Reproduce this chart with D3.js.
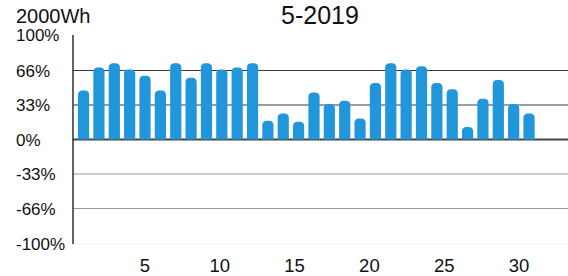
<!DOCTYPE html>
<html>
<head>
<meta charset="utf-8">
<title>5-2019</title>
<script src="https://cdn.jsdelivr.net/npm/d3@7"></script>
<style>
  body { margin: 0; background: #fff; }
  svg { display: block; font-family: 'Liberation Sans', Arial, sans-serif; }
  text { fill: #111; }
  .bar { fill: #2196db; }
</style>
</head>
<body>
<svg width="568" height="276"></svg>
<script>
// days of May 2019 with a value
const days = d3.range(1, 31);
// percent of 2000Wh per day
const values = [47, 69, 73, 67, 61, 47, 73, 59, 73, 67,
                69, 73, 18, 25, 17, 45, 34, 37, 20, 54,
                73, 67, 70, 54, 48, 12, 39, 57, 34, 25];
const yTicks = [100, 66, 33, 0, -33, -66, -100];
const xTicks = [5, 10, 15, 20, 25, 30];

const svg = d3.select('svg');
const width = 568;

const y = d3.scaleLinear().domain([-100, 100]).range([244, 35]);
const x = d3.scaleBand().domain(days).range([75.9, 536.7])
  .paddingInner(0.27).paddingOuter(0.135);
// tick labels sit on a slightly different spacing than the bars
const xLab = d3.scaleLinear().domain([5, 30]).range([145, 519]);

const axisX = 73;

// grid lines
const gridColor = v => v > 0 ? '#3a3a3a' : v === 0 ? '#444' : v === -100 ? '#eeeeee' : '#9a9a9a';
svg.append('g').selectAll('line')
  .data(yTicks.filter(v => v !== 100))
  .join('line')
  .attr('x1', axisX).attr('x2', width)
  .attr('y1', d => y(d)).attr('y2', d => y(d))
  .attr('stroke', d => gridColor(d))
  .attr('stroke-width', d => d === 0 ? 1.8 : 1.1);

// y axis line
svg.append('line')
  .attr('x1', axisX).attr('x2', axisX)
  .attr('y1', y(100)).attr('y2', y(-100))
  .attr('stroke', '#222').attr('stroke-width', 1.4);

// bars with rounded tops
const r = 4.5;
function barPath(d, i) {
  const x0 = x(d), w = x.bandwidth();
  const top = y(values[i]), base = y(0);
  return `M${x0},${base}V${top + r}Q${x0},${top} ${x0 + r},${top}` +
    `H${x0 + w - r}Q${x0 + w},${top} ${x0 + w},${top + r}V${base}Z`;
}
svg.append('g').selectAll('path')
  .data(days)
  .join('path')
  .attr('class', 'bar')
  .attr('d', barPath);

// y tick labels
svg.append('g').selectAll('text')
  .data(yTicks)
  .join('text')
  .attr('x', 16)
  .attr('y', d => y(d))
  .attr('dy', '0.36em')
  .style('font-size', '17px')
  .text(d => d + '%');

// x tick labels
svg.append('g').selectAll('text')
  .data(xTicks)
  .join('text')
  .attr('x', d => xLab(d))
  .attr('y', 272)
  .attr('text-anchor', 'middle')
  .style('font-size', '18.5px')
  .text(d => d);

svg.append('text')
  .attr('x', 16).attr('y', 22.7)
  .style('font-size', '20px')
  .text('2000Wh');

svg.append('text')
  .attr('x', 320).attr('y', 24)
  .attr('text-anchor', 'middle')
  .style('font-size', '25px')
  .text('5-2019');
</script>
</body>
</html>
